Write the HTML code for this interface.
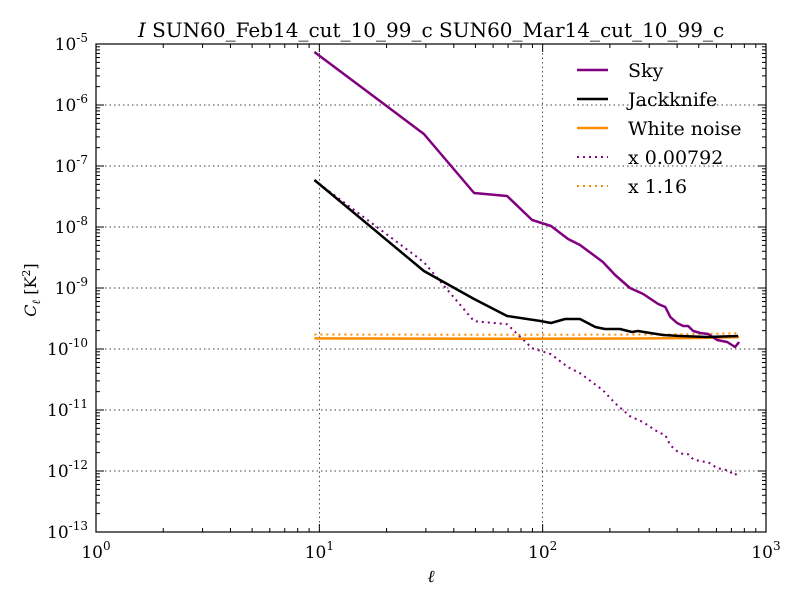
<!DOCTYPE html>
<html><head><meta charset="utf-8"><style>
body{margin:0;background:#fff;}
svg{display:block;font-family:"DejaVu Serif","Liberation Serif",serif;}
</style></head><body>
<svg id="chart" width="800" height="600" viewBox="0 0 800 600">
<rect width="800" height="600" fill="#fff"/>
<text x="431" y="37" font-size="20" text-anchor="middle"><tspan font-style="italic">I</tspan> SUN60_Feb14_cut_10_99_c SUN60_Mar14_cut_10_99_c</text>
<g id="grid"></g>
<g id="ticks"></g>
<g id="series"></g>
<rect x="96" y="44" width="670" height="488" fill="none" stroke="#000" stroke-width="1.2"/>
<text x="431" y="582" font-size="17" font-style="italic" text-anchor="middle">ℓ</text>
<text transform="translate(36,290) rotate(-90)" font-size="16" text-anchor="middle"><tspan font-style="italic">C</tspan><tspan font-style="italic" font-size="11" dy="4">ℓ</tspan><tspan dy="-4"> [K</tspan><tspan font-size="11" dy="-6">2</tspan><tspan dy="6">]</tspan></text>
<g id="legend"></g>
</svg>
<script>
const skyEll=[9.5,29.4,49.3,69.3,89.7,109,130,147,186,211,246,282,329,354,373,400,426,448,472,508,551,604,670,727,758];
const skyLog=[-5.131,-6.475,-7.443,-7.492,-7.885,-7.984,-8.197,-8.295,-8.574,-8.787,-9.0,-9.098,-9.262,-9.311,-9.475,-9.574,-9.623,-9.623,-9.705,-9.738,-9.754,-9.852,-9.885,-9.967,-9.885];
const jkEll=[9.5,29.4,49.3,69.3,97,109,126,147,172,190,222,251,267,303,346,412,545,750];
const jkLog=[-7.230,-8.721,-9.180,-9.459,-9.540,-9.574,-9.508,-9.508,-9.639,-9.672,-9.672,-9.721,-9.705,-9.738,-9.770,-9.787,-9.803,-9.787];
const wnEll=[9.5,30,70,150,300,500,758];
const wnLog=[-9.826,-9.830,-9.832,-9.830,-9.826,-9.820,-9.805];
const skyScale=0.00792, wnScale=1.16;
const xTicks=[0,1,2,3], yTicks=[-5,-6,-7,-8,-9,-10,-11,-12,-13];
const legendLabels=["Sky","Jackknife","White noise","x 0.00792","x 1.16"];

const X0=96,X1=766,Y0=44,Y1=532;
const sx=l=>X0+(Math.log10(l)-0)/3*(X1-X0);
const sy=lg=>Y0+(-5-lg)/8*(Y1-Y0);
const NS="http://www.w3.org/2000/svg";
function mk(tag,attrs,parent){const e=document.createElementNS(NS,tag);for(const k in attrs)e.setAttribute(k,attrs[k]);parent.appendChild(e);return e;}
const grid=document.getElementById('grid'),ticks=document.getElementById('ticks'),ser=document.getElementById('series'),leg=document.getElementById('legend');

xTicks.forEach(d=>{
  const x=X0+d/3*(X1-X0);
  if(d>0&&d<3){const g=mk('line',{x1:x,x2:x,y1:Y0,y2:Y1,stroke:'#000','stroke-width':0.7,'stroke-dasharray':'1.5,3'},grid);
  }
  mk('line',{x1:x,x2:x,y1:Y1,y2:Y1-8,stroke:'#000'},ticks);mk('line',{x1:x,x2:x,y1:Y0,y2:Y0+8,stroke:'#000'},ticks);
  if(d<3)for(let m=2;m<10;m++){const xm=X0+(d+Math.log10(m))/3*(X1-X0);mk('line',{x1:xm,x2:xm,y1:Y1,y2:Y1-4,stroke:'#000'},ticks);mk('line',{x1:xm,x2:xm,y1:Y0,y2:Y0+4,stroke:'#000'},ticks);}
  const t=mk('text',{x:x,y:Y1+26,'font-size':17,'text-anchor':'middle'},ticks);
  
  t.innerHTML='10<tspan font-size="12" dy="-8">'+d+'</tspan>';
});
yTicks.forEach(d=>{
  const y=sy(d);
  if(d<-5&&d>-13){const g=mk('line',{x1:X0,x2:X1,y1:y,y2:y,stroke:'#000','stroke-width':0.7,'stroke-dasharray':'1.5,3'},grid);
  }
  mk('line',{x1:X0,x2:X0+8,y1:y,y2:y,stroke:'#000'},ticks);mk('line',{x1:X1,x2:X1-8,y1:y,y2:y,stroke:'#000'},ticks);
  if(d>-13)for(let m=2;m<10;m++){const ym=sy(d-1+Math.log10(m));mk('line',{x1:X0,x2:X0+4,y1:ym,y2:ym,stroke:'#000'},ticks);mk('line',{x1:X1,x2:X1-4,y1:ym,y2:ym,stroke:'#000'},ticks);}
  const t=mk('text',{x:X0-8,y:y+6,'font-size':17,'text-anchor':'end'},ticks);
  
  t.innerHTML='10<tspan font-size="12" dy="-8">'+d+'</tspan>';
});

function line(ells,logs,shift,color,dash,name){
  const pts=ells.map((l,i)=>sx(l).toFixed(1)+','+sy(logs[i]+shift).toFixed(1)).join(' ');
  const p=mk('polyline',{points:pts,fill:'none',stroke:color,'stroke-width':dash?2:2.5,'stroke-dasharray':dash?'2,4':'none','stroke-linejoin':'round'},ser);
  
}
const orange='#ff8c00',purple='#800080';
line(wnEll,wnLog,Math.log10(wnScale),orange,true,'white-noise-scaled-line');
line(skyEll,skyLog,Math.log10(skyScale),purple,true,'sky-scaled-line');
line(wnEll,wnLog,0,orange,false,'white-noise-line');
line(skyEll,skyLog,0,purple,false,'sky-line');
line(jkEll,jkLog,0,'#000',false,'jackknife-line');

const legColors=[purple,'#000',orange,purple,orange],legDash=[0,0,0,1,1];
legendLabels.forEach((lab,i)=>{
  const y=70+i*29;
  const l=mk('line',{x1:577,x2:608,y1:y,y2:y,stroke:legColors[i],'stroke-width':legDash[i]?2:2.5,'stroke-dasharray':legDash[i]?'2,4':'none'},leg);
  
  const t=mk('text',{x:628,y:y+7,'font-size':19},leg);
  
  t.textContent=lab;
});
</script>
</body></html>
